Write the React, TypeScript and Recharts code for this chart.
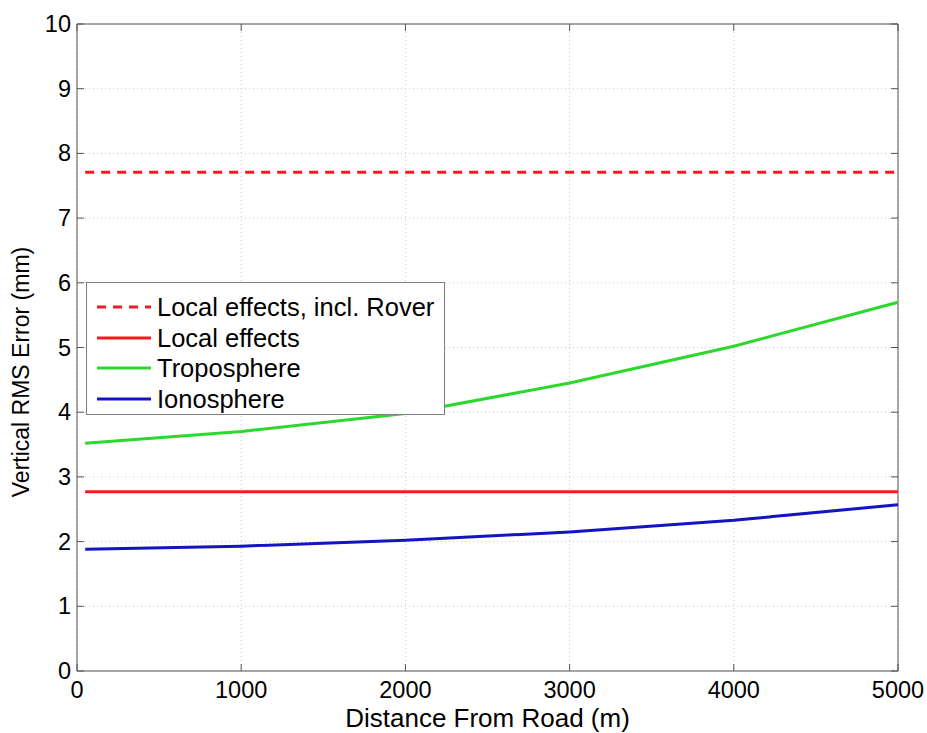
import React from "react";
import { LineChart, Line, XAxis, YAxis, CartesianGrid, ReferenceLine } from "recharts";

const distance = [50, 1000, 2000, 3000, 4000, 5000];
const localRover = [7.71, 7.71, 7.71, 7.71, 7.71, 7.71];
const localEffects = [2.77, 2.77, 2.77, 2.77, 2.77, 2.77];
const troposphere = [3.52, 3.7, 3.98, 4.45, 5.02, 5.7];
const ionosphere = [1.88, 1.93, 2.02, 2.15, 2.33, 2.57];

const xTicks = [0, 1000, 2000, 3000, 4000, 5000];
const yTicks = [0, 1, 2, 3, 4, 5, 6, 7, 8, 9, 10];

const seriesNames = ["Local effects, incl. Rover", "Local effects", "Troposphere", "Ionosphere"];

const data = distance.map((d, i) => ({
  x: d,
  rover: localRover[i],
  local: localEffects[i],
  tropo: troposphere[i],
  iono: ionosphere[i],
}));

const W = 919;
const H = 725;
const M = { top: 16, right: 29, left: 0, bottom: 0 };
const YW = 69;
const XH = 62;
const PL = M.left + YW;
const PR = W - M.right;
const PT = M.top;
const PB = H - XH;

const FONT = "'Liberation Sans', Arial, sans-serif";
const RED = "#f21c1c";
const GREEN = "#2cd82c";
const BLUE = "#1414c0";
const AXIS = "#555";

const series = [
  { key: "rover", name: seriesNames[0], color: RED, dash: "9 7" },
  { key: "local", name: seriesNames[1], color: RED, dash: undefined },
  { key: "tropo", name: seriesNames[2], color: GREEN, dash: undefined },
  { key: "iono", name: seriesNames[3], color: BLUE, dash: undefined },
];

const XTick = (props: any) => {
  const { x, payload } = props;
  return (
    <g>
      <line x1={x} x2={x} y1={PB} y2={PB - 7} stroke={AXIS} strokeWidth={1} />
      <line x1={x} x2={x} y1={PT} y2={PT + 7} stroke={AXIS} strokeWidth={1} />
      <text x={x} y={PB + 19} textAnchor="middle" dominantBaseline="central" fontSize={23.5} fontFamily={FONT} fill="#000">
        {payload.value}
      </text>
    </g>
  );
};

const YTick = (props: any) => {
  const { y, payload } = props;
  return (
    <g>
      <line x1={PL} x2={PL + 7} y1={y} y2={y} stroke={AXIS} strokeWidth={1} />
      <line x1={PR} x2={PR - 7} y1={y} y2={y} stroke={AXIS} strokeWidth={1} />
      <text x={PL - 6} y={y} textAnchor="end" dominantBaseline="central" fontSize={23.5} fontFamily={FONT} fill="#000">
        {payload.value}
      </text>
    </g>
  );
};

const LegendBox = () => (
  <div
    style={{
      position: "absolute",
      left: 78,
      top: 274,
      width: 359,
      height: 133,
      border: "1px solid #808080",
      background: "#fff",
      paddingTop: 9,
      boxSizing: "border-box",
      fontFamily: FONT,
      fontSize: 25.5,
      color: "#000",
    }}
  >
    {series.map((s) => (
      <div key={s.key} style={{ display: "flex", alignItems: "center", height: 30.5 }}>
        <svg width={70} height={30} style={{ display: "block", flex: "none" }}>
          <line x1={10} x2={64} y1={15} y2={15} stroke={s.color} strokeWidth={3} strokeDasharray={s.dash} />
        </svg>
        <span style={{ lineHeight: "30px", whiteSpace: "nowrap" }}>{s.name}</span>
      </div>
    ))}
  </div>
);

export default function App() {
  return (
    <div style={{ position: "fixed", left: 8, top: 8, width: W, height: H, background: "#fff" }}>
      <LineChart width={W} height={H} data={data} margin={M}>
        <CartesianGrid stroke="#c8c8c8" strokeDasharray="1 3" vertical horizontal />
        <XAxis
          dataKey="x"
          type="number"
          domain={[0, 5000]}
          ticks={xTicks}
          interval={0}
          height={XH}
          stroke={AXIS}
          tickLine={false}
          tick={<XTick />}
          label={{
            content: () => (
              <text x={(PL + PR) / 2} y={H - 6} textAnchor="middle" fontSize={26} fontFamily={FONT} fill="#000">
                Distance From Road (m)
              </text>
            ),
          }}
        />
        <YAxis
          type="number"
          domain={[0, 10]}
          ticks={yTicks}
          interval={0}
          width={YW}
          stroke={AXIS}
          tickLine={false}
          tick={<YTick />}
          label={{
            content: () => (
              <text
                x={13}
                y={364}
                transform={`rotate(-90, 13, 364)`}
                textAnchor="middle"
                dominantBaseline="central"
                fontSize={23}
                fontFamily={FONT}
                fill="#000"
              >
                Vertical RMS Error (mm)
              </text>
            ),
          }}
        />
        <ReferenceLine y={10} stroke={AXIS} strokeWidth={1} />
        <ReferenceLine x={5000} stroke={AXIS} strokeWidth={1} />
        {series.map((s) => (
          <Line
            key={s.key}
            dataKey={s.key}
            name={s.name}
            type="linear"
            stroke={s.color}
            strokeWidth={3}
            strokeDasharray={s.dash}
            dot={false}
            activeDot={false}
            isAnimationActive={false}
          />
        ))}
      </LineChart>
      <LegendBox />
    </div>
  );
}
